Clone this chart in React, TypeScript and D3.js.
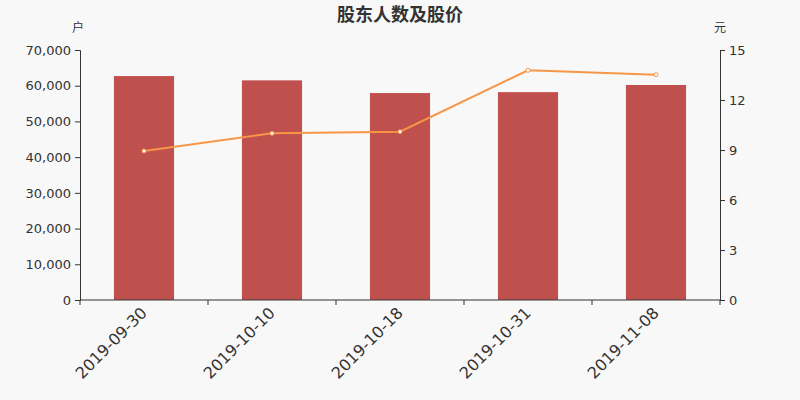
import { useEffect, useRef } from "react";
import * as d3 from "d3";

const dates = ["2019-09-30", "2019-10-10", "2019-10-18", "2019-10-31", "2019-11-08"];
const holders = [62700, 61500, 57950, 58200, 60200];
const prices = [8.94, 10.0, 10.1, 13.78, 13.52];
const leftTicks = [0, 10000, 20000, 30000, 40000, 50000, 60000, 70000];
const rightTicks = [0, 3, 6, 9, 12, 15];

export default function App() {
  const svgRef = useRef<SVGSVGElement>(null);

  useEffect(() => {
    if (!svgRef.current) return;
    const svg = d3.select(svgRef.current);
    svg.selectAll("*").remove();

    const width = 800;
    const height = 400;
    const margin = { top: 50, right: 80, bottom: 100, left: 80 };
    const font = "'DejaVu Sans', 'Noto Sans CJK SC', sans-serif";
    const axisColor = "#333";

    svg.append("rect").attr("width", width).attr("height", height).attr("fill", "#f8f8f8");

    const x = d3
      .scaleBand()
      .domain(dates)
      .range([margin.left, width - margin.right])
      .paddingInner(0.53)
      .paddingOuter(0.265);
    const xBand = d3.scaleBand().domain(dates).range([margin.left, width - margin.right]);
    const yLeft = d3.scaleLinear().domain([0, 70000]).range([height - margin.bottom, margin.top]);
    const yRight = d3.scaleLinear().domain([0, 15]).range([height - margin.bottom, margin.top]);

    // title
    svg
      .append("text")
      .attr("x", width / 2)
      .attr("y", 21)
      .attr("text-anchor", "middle")
      .attr("font-family", "'Noto Sans CJK SC', sans-serif")
      .attr("font-size", 18)
      .attr("font-weight", "bold")
      .attr("fill", "#333")
      .text("股东人数及股价");

    // bars
    svg
      .append("g")
      .selectAll("rect")
      .data(holders)
      .enter()
      .append("rect")
      .attr("x", (_, i) => x(dates[i])!)
      .attr("width", x.bandwidth())
      .attr("y", (d) => yLeft(d))
      .attr("height", (d) => yLeft(0) - yLeft(d))
      .attr("fill", "#c0504d");

    // line
    const cx = (i: number) => xBand(dates[i])! + xBand.bandwidth() / 2;
    const line = d3
      .line<number>()
      .x((_, i) => cx(i))
      .y((d) => yRight(d));
    svg
      .append("path")
      .datum(prices)
      .attr("d", line)
      .attr("fill", "none")
      .attr("stroke", "#f79646")
      .attr("stroke-width", 2);
    svg
      .append("g")
      .selectAll("circle")
      .data(prices)
      .enter()
      .append("circle")
      .attr("cx", (_, i) => cx(i))
      .attr("cy", (d) => yRight(d))
      .attr("r", 2)
      .attr("fill", "#fff")
      .attr("stroke", "#f79646")
      .attr("stroke-width", 1);

    // left axis
    const gl = svg
      .append("g")
      .attr("transform", `translate(${margin.left},0)`)
      .call(
        d3
          .axisLeft(yLeft)
          .tickValues(leftTicks)
          .tickSize(5)
          .tickPadding(4)
          .tickFormat((d) => d3.format(",")(d as number)),
      );
    gl.select(".domain").attr("stroke", axisColor);
    gl.selectAll("line").attr("stroke", axisColor);
    gl.selectAll("text").attr("font-family", font).attr("font-size", 13).attr("fill", axisColor);

    // right axis
    const gr = svg
      .append("g")
      .attr("transform", `translate(${width - margin.right},0)`)
      .call(d3.axisRight(yRight).tickValues(rightTicks).tickSize(5).tickPadding(4));
    gr.select(".domain").attr("stroke", axisColor);
    gr.selectAll("line").attr("stroke", axisColor);
    gr.selectAll("text").attr("font-family", font).attr("font-size", 13).attr("fill", axisColor);

    // bottom axis
    const gb = svg
      .append("g")
      .attr("transform", `translate(0,${height - margin.bottom})`);
    gb.append("line")
      .attr("x1", margin.left)
      .attr("x2", width - margin.right)
      .attr("stroke", axisColor);
    const boundaries = [...dates.map((d) => xBand(d)!), width - margin.right];
    gb.selectAll("line.tick")
      .data(boundaries)
      .enter()
      .append("line")
      .attr("class", "tick")
      .attr("x1", (d) => d)
      .attr("x2", (d) => d)
      .attr("y1", 0)
      .attr("y2", 5)
      .attr("stroke", axisColor);
    gb.selectAll("text")
      .data(dates)
      .enter()
      .append("text")
      .attr("transform", (d) => `translate(${xBand(d)! + xBand.bandwidth() / 2},${10}) rotate(-45)`)
      .attr("text-anchor", "end")
      .attr("dy", "0.35em")
      .attr("font-family", font)
      .attr("font-size", 16)
      .attr("fill", axisColor)
      .text((d) => d);

    // units
    svg
      .append("text")
      .attr("x", margin.left - 2)
      .attr("y", 32)
      .attr("text-anchor", "middle")
      .attr("font-family", "'Noto Sans CJK SC', sans-serif")
      .attr("font-size", 12)
      .attr("fill", axisColor)
      .text("户");
    svg
      .append("text")
      .attr("x", width - margin.right)
      .attr("y", 32)
      .attr("text-anchor", "middle")
      .attr("font-family", "'Noto Sans CJK SC', sans-serif")
      .attr("font-size", 12)
      .attr("fill", axisColor)
      .text("元");
  }, []);

  return (
    <svg
      ref={svgRef}
      width={800}
      height={400}
      style={{ position: "absolute", left: 0, top: 0, display: "block" }}
    />
  );
}
